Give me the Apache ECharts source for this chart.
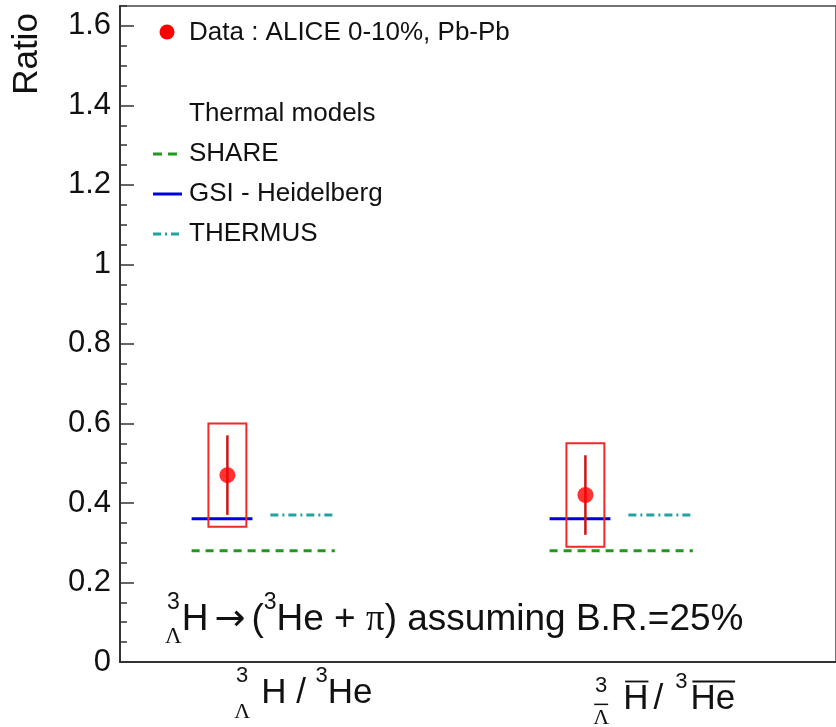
<!DOCTYPE html>
<html>
<head>
<meta charset="utf-8">
<script src="https://cdn.jsdelivr.net/npm/echarts@6/dist/echarts.min.js"></script>
<style>
  html, body { margin: 0; padding: 0; background: #ffffff; }
  #main { width: 836px; height: 727px; }
</style>
</head>
<body>
<div id="main"></div>
<script>
// Hypertriton / helium-3 ratios, ALICE Pb-Pb 0-10%, with thermal-model predictions
const categories = ['hypertriton', 'anti-hypertriton'];
const ratio = [0.47, 0.42];
const statErr = [0.10, 0.10];
const systErr = [0.13, 0.13];
const shareModel = [0.28, 0.28];
const gsiModel = [0.36, 0.36];
const thermusModel = [0.37, 0.37];
const yTickValues = [0, 0.2, 0.4, 0.6, 0.8, 1, 1.2, 1.4, 1.6];

const SANS = "'Liberation Sans', Arial, Helvetica, sans-serif";
const SERIF = "'Liberation Serif', 'Times New Roman', serif";
const SYMBOL = "'DejaVu Sans', sans-serif";
const INK = '#111111';

const chart = echarts.init(document.getElementById('main'), null, { renderer: 'canvas' });

// horizontal placement inside each category slot (axis units, slot centre = index)
const DATA_OFFSET = -0.1;
const BOX_HALF = 0.053;
const MODEL_SPAN = {
  share: [-0.2, 0.2],
  gsi: [-0.2, -0.03],
  thermus: [0.02, 0.2]
};

function modelSeries(name, values, span, style) {
  return {
    name: name,
    type: 'custom',
    data: values.map((v, i) => [i, v]),
    renderItem: function (params, api) {
      const i = api.value(0), v = api.value(1);
      const p1 = api.coord([i + span[0], v]);
      const p2 = api.coord([i + span[1], v]);
      return {
        type: 'line',
        shape: { x1: p1[0], y1: p1[1], x2: p2[0], y2: p2[1] },
        style: Object.assign({ fill: null }, style)
      };
    },
    z: 2
  };
}

const boxSeries = {
  name: 'syst',
  type: 'custom',
  data: ratio.map((v, i) => [i, v, systErr[i]]),
  renderItem: function (params, api) {
    const i = api.value(0), v = api.value(1), e = api.value(2);
    const tl = api.coord([i + DATA_OFFSET - BOX_HALF, v + e]);
    const br = api.coord([i + DATA_OFFSET + BOX_HALF, v - e]);
    return {
      type: 'rect',
      shape: { x: tl[0], y: tl[1], width: br[0] - tl[0], height: br[1] - tl[1] },
      style: { fill: null, stroke: '#ee2a2a', lineWidth: 2 }
    };
  },
  z: 3
};

const statSeries = {
  name: 'stat',
  type: 'custom',
  data: ratio.map((v, i) => [i, v, statErr[i]]),
  renderItem: function (params, api) {
    const i = api.value(0), v = api.value(1), e = api.value(2);
    const top = api.coord([i + DATA_OFFSET, v + e]);
    const bot = api.coord([i + DATA_OFFSET, v - e]);
    return {
      type: 'line',
      shape: { x1: top[0], y1: top[1], x2: bot[0], y2: bot[1] },
      style: { stroke: '#cc1414', lineWidth: 2.5 }
    };
  },
  z: 4
};

const pointSeries = {
  name: 'Data : ALICE 0-10%, Pb-Pb',
  type: 'scatter',
  data: ratio.map((v, i) => [i + DATA_OFFSET, v]),
  symbol: 'circle',
  symbolSize: 16,
  itemStyle: { color: '#ff0000' },
  z: 5
};

// --- text with super/subscripts laid out piece by piece ---
const measureCtx = document.createElement('canvas').getContext('2d');
function textWidth(str, font) {
  measureCtx.font = font;
  return measureCtx.measureText(str).width;
}

function formula(tokens, x0, yc, o) {
  const els = [];
  let x = x0;
  tokens.forEach(tk => {
    if (tk.stack) {
      const f0 = o.script + 'px ' + SANS, f1 = o.script + 'px ' + SERIF;
      const w = Math.max(textWidth(tk.stack[0], f0), textWidth(tk.stack[1], f1));
      const supDy = tk.supDy !== undefined ? tk.supDy : o.supDy;
      els.push({ type: 'text', x: x + w / 2, y: yc + supDy,
        style: { text: tk.stack[0], font: f0, fill: INK, align: 'center', verticalAlign: 'middle' } });
      els.push({ type: 'text', x: x + w / 2, y: yc + o.subDy,
        style: { text: tk.stack[1], font: f1, fill: INK, align: 'center', verticalAlign: 'middle' } });
      if (tk.barSub) {
        const by = yc + o.subDy - o.script * 0.62;
        els.push({ type: 'line', shape: { x1: x + 1, y1: by, x2: x + w - 1, y2: by },
          style: { stroke: INK, lineWidth: 1.5 } });
      }
      x += w + (tk.after || 0);
    } else if (tk.sup) {
      const f = o.script + 'px ' + SANS;
      const w = textWidth(tk.sup, f);
      els.push({ type: 'text', x: x, y: yc + o.supDy,
        style: { text: tk.sup, font: f, fill: INK, align: 'left', verticalAlign: 'middle' } });
      x += w + (tk.after || 0);
    } else {
      const fam = tk.font || SANS;
      const f = o.size + 'px ' + fam;
      const w = textWidth(tk.t, f);
      els.push({ type: 'text', x: x, y: yc,
        style: { text: tk.t, font: f, fill: INK, align: 'left', verticalAlign: 'middle' } });
      if (tk.over) {
        const lead = tk.overLead || 0;
        const oy = yc - o.size * 0.5;
        els.push({ type: 'line', shape: { x1: x + lead, y1: oy, x2: x + w, y2: oy },
          style: { stroke: INK, lineWidth: 1.8 } });
      }
      x += w + (tk.after || 0);
    }
  });
  return els;
}

function legendItems() {
  const els = [];
  const tx = 189;
  const font = '26px ' + SANS;
  els.push({ type: 'circle', shape: { cx: 167, cy: 32, r: 7.5 }, style: { fill: '#ff0000' } });
  els.push({ type: 'text', x: tx, y: 33, style: { text: 'Data : ALICE 0-10%, Pb-Pb', font: font, fill: INK, verticalAlign: 'middle' } });
  els.push({ type: 'text', x: tx, y: 114, style: { text: 'Thermal models', font: font, fill: INK, verticalAlign: 'middle' } });
  els.push({ type: 'line', shape: { x1: 153, y1: 154, x2: 177, y2: 154 }, style: { stroke: '#1f9a1f', lineWidth: 3, lineDash: [9, 6] } });
  els.push({ type: 'text', x: tx, y: 154, style: { text: 'SHARE', font: font, fill: INK, verticalAlign: 'middle' } });
  els.push({ type: 'line', shape: { x1: 153, y1: 194, x2: 182, y2: 194 }, style: { stroke: '#0000dd', lineWidth: 3 } });
  els.push({ type: 'text', x: tx, y: 194, style: { text: 'GSI - Heidelberg', font: font, fill: INK, verticalAlign: 'middle' } });
  els.push({ type: 'line', shape: { x1: 153, y1: 234, x2: 180, y2: 234 }, style: { stroke: '#1fa3a3', lineWidth: 3, lineDash: [8, 4, 2, 4] } });
  els.push({ type: 'text', x: tx, y: 234, style: { text: 'THERMUS', font: font, fill: INK, verticalAlign: 'middle' } });
  return els;
}

const noteTokens = [
  { stack: ['3', '\u039B'] },
  { t: 'H', after: 6 },
  { t: '\u2192', font: SYMBOL, after: 6 },
  { t: '(' },
  { sup: '3' },
  { t: 'He + ' },
  { t: '\u03C0', font: SERIF },
  { t: ') assuming B.R.=25%' }
];

const catLabelTokens = [
  [
    { stack: ['3', '\u039B'], after: 11 },
    { t: 'H / ' },
    { sup: '3' },
    { t: 'He' }
  ],
  [
    { stack: ['3', '\u039B'], barSub: true, supDy: -13, after: 14 },
    { t: 'H', over: true, overLead: 2, after: 5 },
    { t: '/', after: 12 },
    { sup: '3', after: 3 },
    { t: 'He', over: true, overLead: 2 }
  ]
];

const option = {
  animation: false,
  backgroundColor: '#ffffff',
  grid: {
    left: 120, right: -8, top: 6, bottom: 65,
    show: true, borderColor: '#444444', borderWidth: 1.5, backgroundColor: 'transparent'
  },
  xAxis: {
    type: 'value', min: -0.4, max: 1.6,
    axisLine: { show: true, onZero: false, lineStyle: { color: '#333333', width: 2 } },
    axisTick: { show: false }, axisLabel: { show: false }, splitLine: { show: false }
  },
  yAxis: [
    {
      type: 'value', min: 0, max: 1.65, interval: 0.2,
      axisLine: { show: true, onZero: false, lineStyle: { color: '#333333', width: 2 } },
      axisTick: { show: true, inside: true, length: 14, lineStyle: { color: '#333333', width: 1.5 } },
      axisLabel: {
        show: true, margin: 9, color: INK, fontSize: 31, fontFamily: SANS,
        showMaxLabel: false,
        formatter: function (v) {
          const hit = yTickValues.find(t => Math.abs(t - v) < 1e-6);
          return hit === undefined ? '' : String(hit);
        }
      },
      splitLine: { show: false }
    },
    {
      type: 'value', min: 0, max: 1.65, interval: 0.05, position: 'left',
      axisLine: { show: false, onZero: false },
      axisTick: { show: true, inside: true, length: 7, lineStyle: { color: '#333333', width: 1.5 } },
      axisLabel: { show: false }, splitLine: { show: false }
    }
  ],
  series: [
    modelSeries('SHARE', shareModel, MODEL_SPAN.share, { stroke: '#1f9a1f', lineWidth: 3, lineDash: [8, 6] }),
    modelSeries('GSI - Heidelberg', gsiModel, MODEL_SPAN.gsi, { stroke: '#0000dd', lineWidth: 3 }),
    modelSeries('THERMUS', thermusModel, MODEL_SPAN.thermus, { stroke: '#1fa3a3', lineWidth: 3, lineDash: [8, 4, 2, 4] }),
    boxSeries,
    statSeries,
    pointSeries
  ]
};

chart.setOption(option);

// text annotations placed after the grid is known
const c0 = chart.convertToPixel({ xAxisIndex: 0 }, 0);
const c1 = chart.convertToPixel({ xAxisIndex: 0 }, 1);
const graphics = [];
graphics.push({
  type: 'text', x: 27, y: 54, rotation: Math.PI / 2,
  style: { text: 'Ratio', font: '35px ' + SANS, fill: INK, align: 'center', verticalAlign: 'middle' }
});
legendItems().forEach(e => graphics.push(e));
formula(noteTokens, 165, 620, { size: 37, script: 23, supDy: -17, subDy: 17 }).forEach(e => graphics.push(e));
formula(catLabelTokens[0], c0 - 29, 693, { size: 35, script: 22, supDy: -17, subDy: 19 }).forEach(e => graphics.push(e));
formula(catLabelTokens[1], c1 - 28, 699, { size: 35, script: 22, supDy: -17, subDy: 19 }).forEach(e => graphics.push(e));

chart.setOption({ graphic: { elements: graphics.map(e => Object.assign({ silent: true, z: 10 }, e)) } });
</script>
</body>
</html>
